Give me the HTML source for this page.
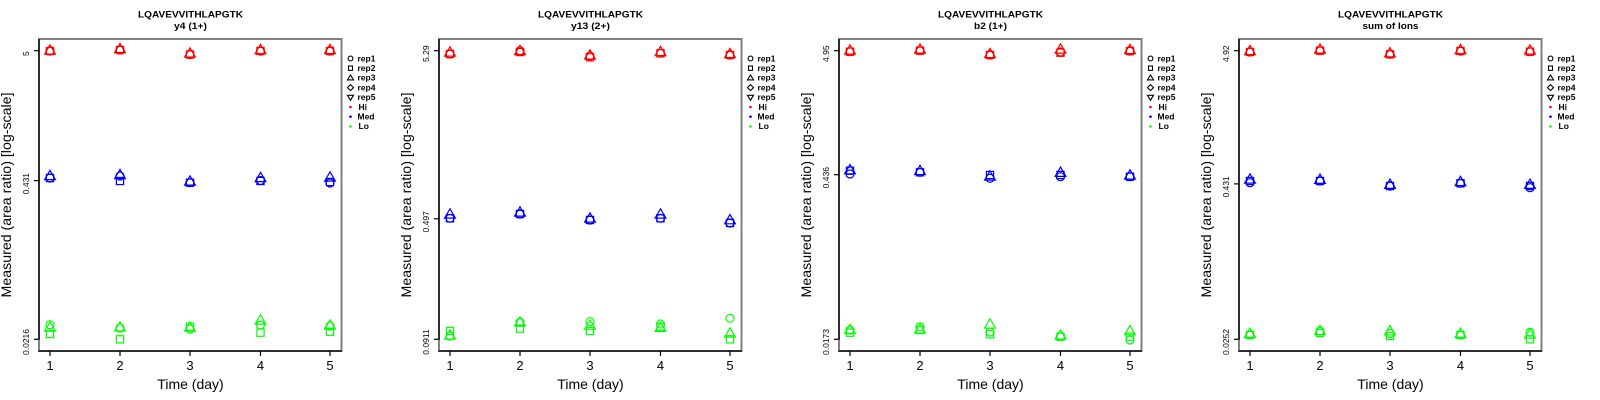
<!DOCTYPE html>
<html><head><meta charset="utf-8"><style>
html,body{margin:0;padding:0;background:#fff;}
svg{display:block;}
text{font-family:"Liberation Sans",Arial,sans-serif;fill:#000;}
.t1{font-size:9px;font-weight:bold;}
.tk{font-size:8.5px;}
.xl{font-size:13px;}
.ax{font-size:14px;}
.lg{font-size:8.5px;font-weight:600;}
</style></head><body>
<svg width="1600" height="400" viewBox="0 0 1600 400" xmlns="http://www.w3.org/2000/svg">
<defs>
<circle id="c" cx="0" cy="0" r="4" fill="none"/>
<rect id="s" x="-3.6" y="-3.6" width="7.2" height="7.2" fill="none"/>
<path id="t" d="M0,-6.2 L5.4,3.1 L-5.4,3.1 Z" fill="none"/>
<circle id="lc" cx="0" cy="0" r="2.4" fill="none"/>
<rect id="ls" x="-2" y="-2.2" width="4" height="4.4" fill="none"/>
<path id="lt" d="M0,-3 L3,2 L-3,2 Z" fill="none"/>
<path id="ld" d="M0,-3 L3,0 L0,3 L-3,0 Z" fill="none"/>
<path id="lv" d="M0,3 L3,-2 L-3,-2 Z" fill="none"/>
<g id="frame">
<rect x="39" y="39" width="302.5" height="312" fill="none" stroke="#808080" stroke-width="2"/>
<line x1="39" y1="39" x2="39" y2="339.5" stroke="#000" stroke-width="1.3"/>
<line x1="38.4" y1="351" x2="342" y2="351" stroke="#000" stroke-width="1.3"/>
<g stroke="#000" stroke-width="1.2">
<line x1="50" y1="351" x2="50" y2="356"/><line x1="120" y1="351" x2="120" y2="356"/><line x1="190" y1="351" x2="190" y2="356"/><line x1="260.5" y1="351" x2="260.5" y2="356"/><line x1="330" y1="351" x2="330" y2="356"/>
<line x1="34" y1="50.7" x2="39" y2="50.7"/><line x1="34" y1="339.3" x2="39" y2="339.3"/>
</g>
<text class="xl" x="50" y="370" text-anchor="middle">1</text>
<text class="xl" x="120" y="370" text-anchor="middle">2</text>
<text class="xl" x="190" y="370" text-anchor="middle">3</text>
<text class="xl" x="260.5" y="370" text-anchor="middle">4</text>
<text class="xl" x="330" y="370" text-anchor="middle">5</text>
<text class="ax" x="190.5" y="389" text-anchor="middle">Time (day)</text>
<text class="ax" transform="translate(11,195) rotate(-90)" text-anchor="middle" textLength="205" lengthAdjust="spacingAndGlyphs">Measured (area ratio) [log-scale]</text>
<g stroke="#000" stroke-width="1.1">
<use href="#lc" x="350.5" y="58.5"/>
<use href="#ls" x="350.5" y="68.2"/>
<use href="#lt" x="350.5" y="77.9"/>
<use href="#ld" x="350.5" y="87.6"/>
<use href="#lv" x="350.5" y="97.3"/>
</g>
<circle cx="350.5" cy="107" r="1.3" fill="#f00"/>
<circle cx="350.5" cy="116.7" r="1.3" fill="#00f"/>
<circle cx="350.5" cy="126.4" r="1.3" fill="#0f0"/>
<text class="lg" x="357.5" y="61.3">rep1</text>
<text class="lg" x="357.5" y="71">rep2</text>
<text class="lg" x="357.5" y="80.7">rep3</text>
<text class="lg" x="357.5" y="90.4">rep4</text>
<text class="lg" x="357.5" y="100.1">rep5</text>
<text class="lg" x="358.5" y="109.8">Hi</text>
<text class="lg" x="357.5" y="119.5">Med</text>
<text class="lg" x="358.5" y="129.2">Lo</text>
</g>
</defs>

<!-- Panel 1 -->
<g>
<use href="#frame"/>
<line x1="34" y1="180.6" x2="39" y2="180.6" stroke="#000" stroke-width="1.2"/>
<text class="t1" x="190.5" y="17.3" text-anchor="middle" textLength="105" lengthAdjust="spacingAndGlyphs">LQAVEVVITHLAPGTK</text>
<text class="t1" x="190.5" y="29" text-anchor="middle" textLength="33" lengthAdjust="spacingAndGlyphs">y4 (1+)</text>
<text class="tk" transform="translate(29,53.7) rotate(-90)" text-anchor="middle">5</text>
<text class="tk" transform="translate(29,183.6) rotate(-90)" text-anchor="middle">0.431</text>
<text class="tk" transform="translate(29,342) rotate(-90)" text-anchor="middle">0.0216</text>
<g stroke="#f00" stroke-width="1.2">
<use href="#c" x="50" y="51"/><use href="#s" x="50" y="51"/><use href="#t" x="50" y="51"/>
<use href="#c" x="120" y="50"/><use href="#s" x="120" y="50"/><use href="#t" x="120" y="49.5"/>
<use href="#c" x="190" y="54.5"/><use href="#s" x="190" y="54.5"/><use href="#t" x="190" y="54"/>
<use href="#c" x="260.5" y="51"/><use href="#s" x="260.5" y="51"/><use href="#t" x="260.5" y="50.5"/>
<use href="#c" x="330" y="51"/><use href="#s" x="330" y="51"/><use href="#t" x="330" y="50.5"/>
</g>
<g stroke="#00f" stroke-width="1.2">
<use href="#c" x="50" y="178"/><use href="#s" x="50" y="178"/><use href="#t" x="50" y="176.5"/>
<use href="#c" x="120" y="176"/><use href="#s" x="120" y="181"/><use href="#t" x="120" y="175.5"/>
<use href="#c" x="190" y="182.7"/><use href="#s" x="190" y="182.7"/><use href="#t" x="190" y="182"/>
<use href="#c" x="260.5" y="180.5"/><use href="#s" x="260.5" y="181"/><use href="#t" x="260.5" y="178.5"/>
<use href="#c" x="330" y="183"/><use href="#s" x="330" y="182"/><use href="#t" x="330" y="178"/>
</g>
<g stroke="#0f0" stroke-width="1.2">
<use href="#c" x="50" y="324.7"/><use href="#s" x="50" y="334"/><use href="#t" x="50" y="328"/>
<use href="#c" x="120" y="328"/><use href="#s" x="120" y="339.3"/><use href="#t" x="120" y="328"/>
<use href="#c" x="190" y="329"/><use href="#s" x="190" y="326.7"/><use href="#t" x="190" y="328"/>
<use href="#c" x="260.5" y="325"/><use href="#s" x="260.5" y="332.7"/><use href="#t" x="260.5" y="321"/>
<use href="#c" x="330" y="326"/><use href="#s" x="330" y="331.7"/><use href="#t" x="330" y="326"/>
</g>
</g>

<!-- Panel 2 -->
<g transform="translate(400,0)">
<use href="#frame"/>
<line x1="34" y1="218.8" x2="39" y2="218.8" stroke="#000" stroke-width="1.2"/>
<text class="t1" x="190.5" y="17.3" text-anchor="middle" textLength="105" lengthAdjust="spacingAndGlyphs">LQAVEVVITHLAPGTK</text>
<text class="t1" x="190.5" y="29" text-anchor="middle" textLength="39" lengthAdjust="spacingAndGlyphs">y13 (2+)</text>
<text class="tk" transform="translate(29,53.7) rotate(-90)" text-anchor="middle">5.29</text>
<text class="tk" transform="translate(29,221.8) rotate(-90)" text-anchor="middle">0.497</text>
<text class="tk" transform="translate(29,342) rotate(-90)" text-anchor="middle">0.0911</text>
<g stroke="#f00" stroke-width="1.2">
<use href="#c" x="50" y="54"/><use href="#s" x="50" y="54"/><use href="#t" x="50" y="53"/>
<use href="#c" x="120" y="50.7"/><use href="#s" x="120" y="52"/><use href="#t" x="120" y="51.5"/>
<use href="#c" x="190" y="56"/><use href="#s" x="190" y="57.3"/><use href="#t" x="190" y="56"/>
<use href="#c" x="260.5" y="53.3"/><use href="#s" x="260.5" y="53.3"/><use href="#t" x="260.5" y="52.5"/>
<use href="#c" x="330" y="55"/><use href="#s" x="330" y="55"/><use href="#t" x="330" y="54.5"/>
</g>
<g stroke="#00f" stroke-width="1.2">
<use href="#c" x="50" y="218.3"/><use href="#s" x="50" y="218.3"/><use href="#t" x="50" y="215"/>
<use href="#c" x="120" y="214"/><use href="#s" x="120" y="214"/><use href="#t" x="120" y="213"/>
<use href="#c" x="190" y="220"/><use href="#s" x="190" y="220"/><use href="#t" x="190" y="219"/>
<use href="#c" x="260.5" y="218.3"/><use href="#s" x="260.5" y="218.3"/><use href="#t" x="260.5" y="215"/>
<use href="#c" x="330" y="223"/><use href="#s" x="330" y="223"/><use href="#t" x="330" y="220.7"/>
</g>
<g stroke="#0f0" stroke-width="1.2">
<use href="#c" x="50" y="336"/><use href="#s" x="50" y="331"/><use href="#t" x="50" y="336"/>
<use href="#c" x="120" y="322.3"/><use href="#s" x="120" y="328.7"/><use href="#t" x="120" y="323"/>
<use href="#c" x="190" y="321.7"/><use href="#s" x="190" y="331"/><use href="#t" x="190" y="326"/>
<use href="#c" x="260.5" y="324"/><use href="#s" x="260.5" y="326.7"/><use href="#t" x="260.5" y="328.3"/>
<use href="#c" x="330" y="318.3"/><use href="#s" x="330" y="339.3"/><use href="#t" x="330" y="334"/>
</g>
</g>

<!-- Panel 3 -->
<g transform="translate(800,0)">
<use href="#frame"/>
<line x1="34" y1="174.7" x2="39" y2="174.7" stroke="#000" stroke-width="1.2"/>
<text class="t1" x="190.5" y="17.3" text-anchor="middle" textLength="105" lengthAdjust="spacingAndGlyphs">LQAVEVVITHLAPGTK</text>
<text class="t1" x="190.5" y="29" text-anchor="middle" textLength="33" lengthAdjust="spacingAndGlyphs">b2 (1+)</text>
<text class="tk" transform="translate(29,53.7) rotate(-90)" text-anchor="middle">4.95</text>
<text class="tk" transform="translate(29,177.7) rotate(-90)" text-anchor="middle">0.436</text>
<text class="tk" transform="translate(29,342) rotate(-90)" text-anchor="middle">0.0173</text>
<g stroke="#f00" stroke-width="1.2">
<use href="#c" x="50" y="51.7"/><use href="#s" x="50" y="51.7"/><use href="#t" x="50" y="51"/>
<use href="#c" x="120" y="50.7"/><use href="#s" x="120" y="50.7"/><use href="#t" x="120" y="50"/>
<use href="#c" x="190" y="55"/><use href="#s" x="190" y="55"/><use href="#t" x="190" y="54.5"/>
<use href="#c" x="260.5" y="52"/><use href="#s" x="260.5" y="52.7"/><use href="#t" x="260.5" y="50"/>
<use href="#c" x="330" y="51"/><use href="#s" x="330" y="51"/><use href="#t" x="330" y="50.5"/>
</g>
<g stroke="#00f" stroke-width="1.2">
<use href="#c" x="50" y="174"/><use href="#s" x="50" y="170.7"/><use href="#t" x="50" y="170.7"/>
<use href="#c" x="120" y="172.3"/><use href="#s" x="120" y="172.3"/><use href="#t" x="120" y="171.5"/>
<use href="#c" x="190" y="178.3"/><use href="#s" x="190" y="175"/><use href="#t" x="190" y="177"/>
<use href="#c" x="260.5" y="176.7"/><use href="#s" x="260.5" y="175"/><use href="#t" x="260.5" y="173.3"/>
<use href="#c" x="330" y="176.7"/><use href="#s" x="330" y="176.7"/><use href="#t" x="330" y="176"/>
</g>
<g stroke="#0f0" stroke-width="1.2">
<use href="#c" x="50" y="330"/><use href="#s" x="50" y="332.7"/><use href="#t" x="50" y="330.5"/>
<use href="#c" x="120" y="326.7"/><use href="#s" x="120" y="330"/><use href="#t" x="120" y="330"/>
<use href="#c" x="190" y="332"/><use href="#s" x="190" y="334.3"/><use href="#t" x="190" y="325"/>
<use href="#c" x="260.5" y="336.7"/><use href="#s" x="260.5" y="336.7"/><use href="#t" x="260.5" y="336"/>
<use href="#c" x="330" y="340"/><use href="#s" x="330" y="336.7"/><use href="#t" x="330" y="331.7"/>
</g>
</g>

<!-- Panel 4 -->
<g transform="translate(1200,0)">
<use href="#frame"/>
<line x1="34" y1="183.9" x2="39" y2="183.9" stroke="#000" stroke-width="1.2"/>
<text class="t1" x="190.5" y="17.3" text-anchor="middle" textLength="105" lengthAdjust="spacingAndGlyphs">LQAVEVVITHLAPGTK</text>
<text class="t1" x="190.5" y="29" text-anchor="middle" textLength="56" lengthAdjust="spacingAndGlyphs">sum of Ions</text>
<text class="tk" transform="translate(29,53.7) rotate(-90)" text-anchor="middle">4.92</text>
<text class="tk" transform="translate(29,186.9) rotate(-90)" text-anchor="middle">0.431</text>
<text class="tk" transform="translate(29,342) rotate(-90)" text-anchor="middle">0.0252</text>
<g stroke="#f00" stroke-width="1.2">
<use href="#c" x="50" y="52"/><use href="#s" x="50" y="52"/><use href="#t" x="50" y="51.5"/>
<use href="#c" x="120" y="50.7"/><use href="#s" x="120" y="50.7"/><use href="#t" x="120" y="50"/>
<use href="#c" x="190" y="54.3"/><use href="#s" x="190" y="54.3"/><use href="#t" x="190" y="53.8"/>
<use href="#c" x="260.5" y="51"/><use href="#s" x="260.5" y="51"/><use href="#t" x="260.5" y="50.5"/>
<use href="#c" x="330" y="51.7"/><use href="#s" x="330" y="51.7"/><use href="#t" x="330" y="51"/>
</g>
<g stroke="#00f" stroke-width="1.2">
<use href="#c" x="50" y="182.7"/><use href="#s" x="50" y="181"/><use href="#t" x="50" y="180"/>
<use href="#c" x="120" y="181"/><use href="#s" x="120" y="181"/><use href="#t" x="120" y="180.3"/>
<use href="#c" x="190" y="186"/><use href="#s" x="190" y="186"/><use href="#t" x="190" y="185.3"/>
<use href="#c" x="260.5" y="183.3"/><use href="#s" x="260.5" y="183.3"/><use href="#t" x="260.5" y="182.5"/>
<use href="#c" x="330" y="187.7"/><use href="#s" x="330" y="186"/><use href="#t" x="330" y="185.3"/>
</g>
<g stroke="#0f0" stroke-width="1.2">
<use href="#c" x="50" y="335"/><use href="#s" x="50" y="335"/><use href="#t" x="50" y="334.3"/>
<use href="#c" x="120" y="331"/><use href="#s" x="120" y="333"/><use href="#t" x="120" y="331.5"/>
<use href="#c" x="190" y="333.5"/><use href="#s" x="190" y="336"/><use href="#t" x="190" y="331.7"/>
<use href="#c" x="260.5" y="335"/><use href="#s" x="260.5" y="335"/><use href="#t" x="260.5" y="334.3"/>
<use href="#c" x="330" y="332.3"/><use href="#s" x="330" y="339.3"/><use href="#t" x="330" y="335"/>
</g>
</g>
</svg>
</body></html>
